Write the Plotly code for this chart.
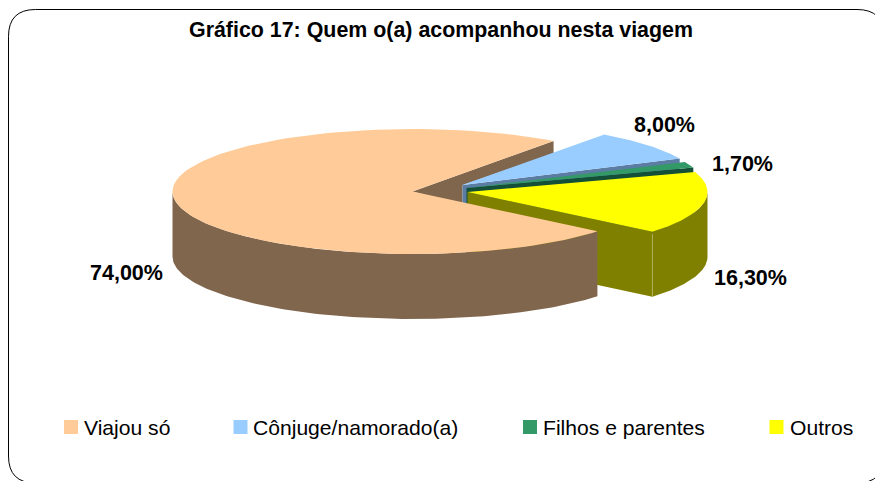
import numpy as np
import plotly.graph_objects as go

# --- data ---
categories = ["Viajou só", "Cônjuge/namorado(a)", "Filhos e parentes", "Outros"]
values = [74.0, 8.0, 1.7, 16.3]
labels = ["74,00%", "8,00%", "1,70%", "16,30%"]
title = "Gráfico 17: Quem o(a) acompanhou nesta viagem"

# --- styling / geometry (pixel space of the 875x481 canvas) ---
top_colors = ["#FFCC99", "#99CCFF", "#339966", "#FFFF00"]
side_colors = ["#80664D", "#5B7DA3", "#145038", "#808000"]
centers = [(412.5, 191.5), (462.5, 185), (466.5, 188), (467.5, 192)]
A, B, DEPTH = 240, 62.5, 65
START = 54.0  # boundary Viajou só / Cônjuge, slices run clockwise
FONT = "Liberation Sans, Arial, sans-serif"
label_pos = [(126.5, 273), (664, 125), (742, 164), (750, 278)]
swatch_x = [71, 240.5, 530, 776.5]
legend_text_x = [83.5, 253, 542.5, 790]
LEGEND_Y = 427

# slice boundaries, from the values
spans = [v / sum(values) * 360 for v in values]
ends = {}
t = START
for i in [1, 2, 3, 0]:
    ends[i] = (t, t - spans[i])
    t -= spans[i]


def arc(i, t0, t1, n=120, dy=0.0):
    c = centers[i]
    th = np.radians(np.linspace(t0, t1, n))
    return c[0] + A * np.cos(th), c[1] - B * np.sin(th) + dy


def pt(i, t_, dy=0.0):
    x, y = arc(i, t_, t_, 1, dy)
    return x[0], y[0]


def wedge(i):
    t0, t1 = ends[i]
    x, y = arc(i, t0, t1)
    c = centers[i]
    return [c[0], *x, c[0]], [c[1], *y, c[1]]


def inner_face(i, t_):
    c = centers[i]
    p = pt(i, t_)
    return [c[0], p[0], p[0], c[0], c[0]], [c[1], p[1], p[1] + DEPTH, c[1] + DEPTH, c[1]]


def outer_face(i, t0, t1):
    x, y = arc(i, t0, t1)
    return [*x, *x[::-1]], [*y, *(y[::-1] + DEPTH)]


fig = go.Figure()


def poly(xy, color):
    fig.add_trace(go.Scatter(x=xy[0], y=xy[1], mode="lines", fill="toself", fillcolor=color,
                             line=dict(width=0, color=color), hoverinfo="skip", showlegend=False))


# cut face of the large slice, partly hidden
p_main = pt(0, START)
blue_c = centers[1]
poly(([centers[0][0], p_main[0], p_main[0], blue_c[0], blue_c[0], centers[0][0]],
      [centers[0][1], p_main[1], p_main[1] + 13, blue_c[1], blue_c[1] + 20, centers[0][1]]),
     side_colors[0])

# exploded slices, back to front
for i in [1, 2]:
    poly(inner_face(i, ends[i][1]), side_colors[i])
    poly(wedge(i), top_colors[i])
poly(inner_face(3, ends[3][1]), side_colors[3])
poly(outer_face(3, 0, ends[3][1]), side_colors[3])
edge = pt(3, ends[3][1])
fig.add_trace(go.Scatter(x=[edge[0], edge[0]], y=[edge[1] + 2, edge[1] + DEPTH], mode="lines",
                         line=dict(width=1, color="#AFAF55"), hoverinfo="skip", showlegend=False))
poly(wedge(3), top_colors[3])

# large slice in front
poly(outer_face(0, ends[0][0], -180), side_colors[0])
poly(wedge(0), top_colors[0])

# legend swatches
for i, cat in enumerate(categories):
    fig.add_trace(go.Scatter(x=[swatch_x[i]], y=[LEGEND_Y], mode="markers", name=cat,
                             marker=dict(symbol="square", size=14, color=top_colors[i], line=dict(width=0)),
                             hoverinfo="skip", showlegend=False))

ann = [dict(x=441, y=30, text=f"<b>{title}</b>", font=dict(size=21.4, color="black", family=FONT),
            showarrow=False, xanchor="center", yanchor="middle")]
for (x, y), s in zip(label_pos, labels):
    ann.append(dict(x=x, y=y, text=f"<b>{s}</b>", font=dict(size=21.5, color="black", family=FONT),
                    showarrow=False, xanchor="center", yanchor="middle"))
for x, s in zip(legend_text_x, categories):
    ann.append(dict(x=x, y=LEGEND_Y, text=s, font=dict(size=21.1, color="black", family=FONT),
                    showarrow=False, xanchor="left", yanchor="middle", xshift=-2))

L, T, R, Bt, Rd = 8.5, 9.5, 884, 483, 27
frame = (f"M{L},{T+Rd} Q{L},{T} {L+Rd},{T} L{R-Rd},{T} Q{R},{T} {R},{T+Rd} "
         f"L{R},{Bt-Rd} Q{R},{Bt} {R-Rd},{Bt} L{L+Rd},{Bt} Q{L},{Bt} {L},{Bt-Rd} Z")

fig.update_layout(
    width=875, height=481, autosize=False,
    margin=dict(l=0, r=0, t=0, b=0),
    paper_bgcolor="white", plot_bgcolor="white",
    xaxis=dict(range=[0, 875], visible=False, fixedrange=True),
    yaxis=dict(range=[481, 0], visible=False, fixedrange=True),
    annotations=ann,
    shapes=[dict(type="path", path=frame, line=dict(color="black", width=1), layer="below")],
    showlegend=False,
)
fig.write_html("out.html", config=dict(displayModeBar=False),
               post_script="document.body.style.margin='0';document.documentElement.style.overflow='hidden';")
